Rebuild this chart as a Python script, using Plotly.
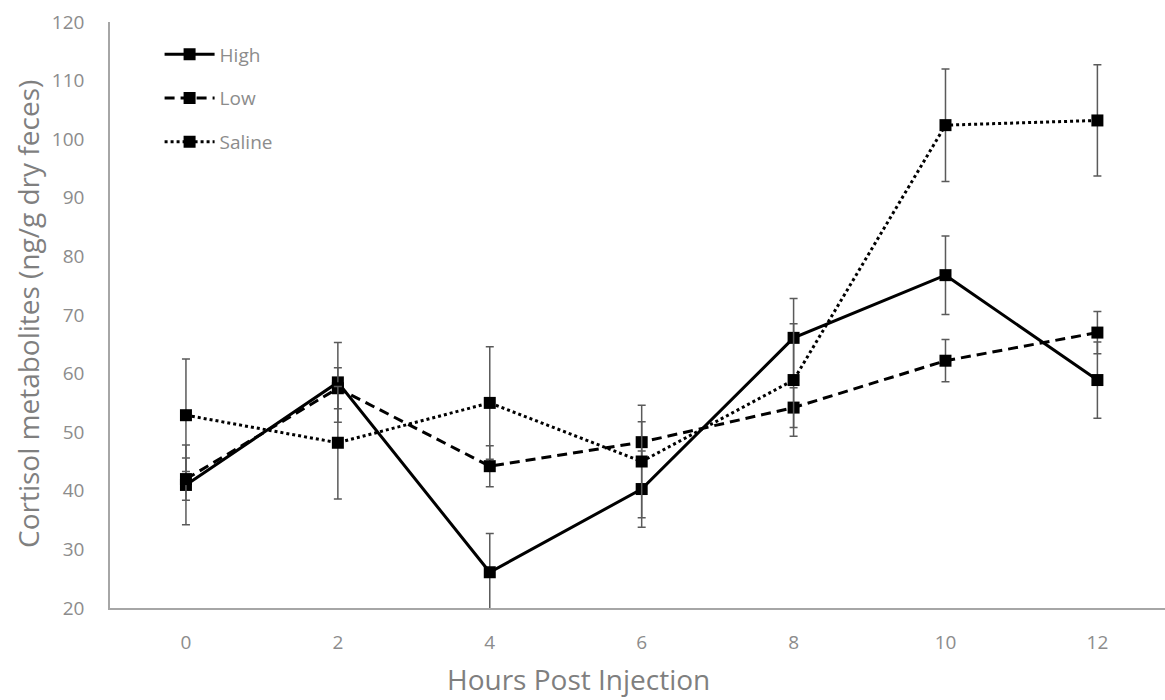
import plotly.graph_objects as go

# Sampling times (hours after injection)
hours = [0, 2, 4, 6, 8, 10, 12]

# Mean faecal cortisol metabolites (ng/g dry feces) and their error bars
high = [41.0, 58.5, 26.1, 40.3, 66.1, 76.8, 58.9]
high_err = [6.8, 6.8, 6.6, 6.5, 6.7, 6.7, 6.5]

low = [42.0, 57.5, 44.2, 48.3, 54.2, 62.2, 67.0]
low_err = [3.6, 3.5, 3.5, 3.5, 3.4, 3.6, 3.6]

saline = [52.9, 48.2, 55.0, 45.0, 58.9, 102.4, 103.2]
saline_err = [9.6, 9.6, 9.6, 9.6, 9.6, 9.6, 9.5]

y_ticks = [20, 30, 40, 50, 60, 70, 80, 90, 100, 110, 120]

GREY_TEXT = "#8c8c8c"
AXIS_GREY = "#a6a6a6"
FONT = "Open Sans, Lato, sans-serif"

series = [
    ("High", high, high_err, "solid"),
    ("Low", low, low_err, "10px,6px"),
    ("Saline", saline, saline_err, "dot"),
]

fig = go.Figure()
for name, vals, errs, dash in series:
    fig.add_trace(go.Scatter(
        x=hours, y=vals, name=name, mode="lines+markers",
        legendgroup=name,
        line=dict(color="black", width=3, dash=dash),
        marker=dict(symbol="square", size=12, color="black"),
        error_y=dict(type="data", array=errs, visible=True,
                     color="#5a5a5a", thickness=1.5, width=4),
        cliponaxis=True,
    ))

fig.update_layout(
    width=1165, height=700,
    margin=dict(l=110, r=0, t=22, b=92),
    paper_bgcolor="white", plot_bgcolor="white",
    font=dict(family=FONT, color=GREY_TEXT, size=19),
    showlegend=True,
    legend=dict(
        x=0.047, y=0.977, xanchor="left", yanchor="top",
        bgcolor="rgba(0,0,0,0)",
        font=dict(size=19, color=GREY_TEXT, family=FONT),
        tracegroupgap=16,
        itemwidth=50,
    ),
    xaxis=dict(
        range=[-1, 12.89],
        tickvals=hours, ticktext=[str(h) for h in hours],
        showgrid=False, zeroline=False,
        showline=True, linecolor=AXIS_GREY, linewidth=1.5,
        ticks="", ticklabelstandoff=16,
        tickfont=dict(size=19, color=GREY_TEXT, family=FONT),
    ),
    yaxis=dict(
        range=[20, 120],
        tickvals=y_ticks, ticktext=[str(v) for v in y_ticks],
        showgrid=False, zeroline=False,
        showline=True, linecolor=AXIS_GREY, linewidth=1.5,
        ticks="", ticklabelstandoff=20,
        tickfont=dict(size=19, color=GREY_TEXT, family=FONT),
    ),
    annotations=[
        dict(text="Hours Post Injection", xref="paper", yref="paper",
             x=(578 - 110) / 1055, y=-0.122, xanchor="center", yanchor="middle",
             showarrow=False, font=dict(size=28, color="#7f7f7f", family=FONT)),
        dict(text="Cortisol metabolites (ng/g dry feces)", xref="paper", yref="paper",
             x=(28 - 110) / 1055, y=(608 - 314) / 586, xanchor="center", yanchor="middle",
             textangle=-90, showarrow=False,
             font=dict(size=28, color="#7f7f7f", family=FONT)),
    ],
)

fig.write_html("out.html")
